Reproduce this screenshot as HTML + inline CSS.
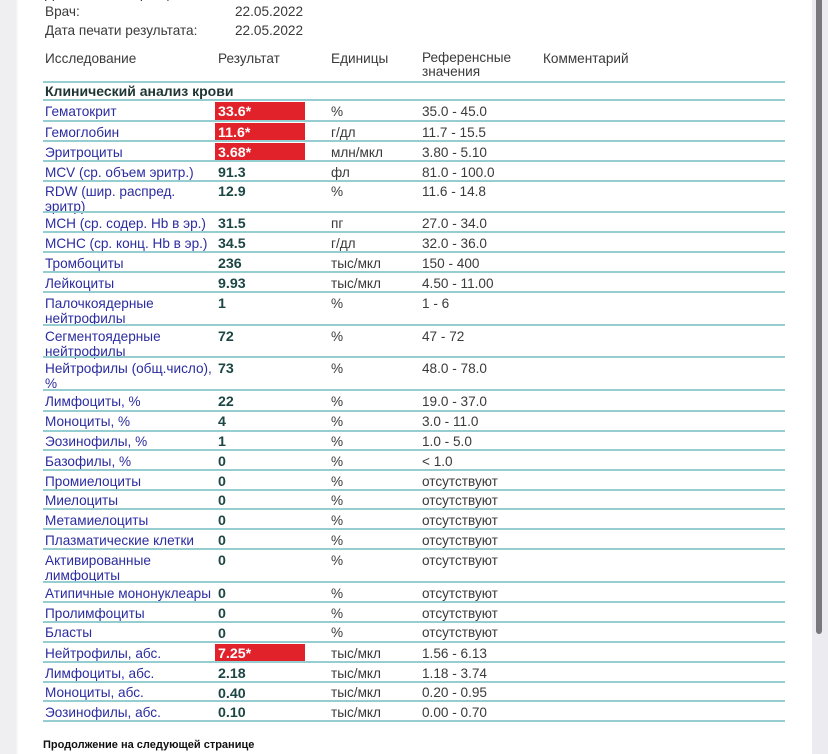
<!DOCTYPE html>
<html><head><meta charset="utf-8">
<style>
html,body{margin:0;padding:0;background:#fff;}
#p{position:relative;width:828px;height:754px;overflow:hidden;background:#fff;font-family:"Liberation Sans","Noto Sans CJK SC",sans-serif;font-size:13.6px;line-height:15px;color:#3a3a3a;}
.ab{position:absolute;white-space:nowrap;}
.ln{position:absolute;left:43px;width:742px;height:2px;background:#96cdd1;}
.n{position:absolute;left:45px;color:#2b2ca0;white-space:nowrap;}
.r{position:absolute;left:218px;color:#1c4644;font-weight:bold;font-size:14.2px;white-space:nowrap;margin-top:1.5px;}
.u{position:absolute;left:331px;white-space:nowrap;}
.f{position:absolute;left:422px;white-space:nowrap;}
.red{position:absolute;left:215px;width:90px;height:18px;background:#e2222b;}
.rw{position:absolute;left:218px;color:#fff;font-weight:bold;font-size:14.2px;white-space:nowrap;margin-top:1.5px;}
</style></head><body><div id="p">
<div class="ab" style="left:0;top:0;width:16px;height:754px;background:#efeff2;"></div>
<div class="ab" style="left:16px;top:0;width:2px;height:754px;background:#f6f6f8;"></div>
<div class="ab" style="left:812px;top:0;width:16px;height:754px;background:#ececf0;"></div>
<div class="ab" style="left:816px;top:0;width:6px;height:634px;background:#79787d;border-radius:0 0 3px 3px;"></div>

<div class="ab" style="left:45px;top:-14px;color:#3a3a3a;">Дата взятия образца:</div>
<div class="ab" style="left:235px;top:-14px;color:#3a3a3a;">22.05.2022</div>
<div class="ab" style="left:45px;top:4px;">Врач:</div>
<div class="ab" style="left:235px;top:4px;">22.05.2022</div>
<div class="ab" style="left:45px;top:23px;">Дата печати результата:</div>
<div class="ab" style="left:235px;top:23px;">22.05.2022</div>

<div class="ab" style="left:45px;top:51px;">Исследование</div>
<div class="ab" style="left:218px;top:51px;">Результат</div>
<div class="ab" style="left:331px;top:51px;">Единицы</div>
<div class="ab" style="left:422px;top:51px;line-height:14px;">Референсные<br>значения</div>
<div class="ab" style="left:543px;top:51px;">Комментарий</div>

<div class="ln" style="top:81px;"></div>
<div class="ab" style="left:45px;top:84px;font-weight:bold;color:#1e3533;font-size:14px;">Клинический анализ крови</div>
<div class="ln" style="top:99px;"></div>

<!-- rows -->
<div class="red" style="top:102px;"></div><div class="n" style="top:103.5px;">Гематокрит</div><div class="rw" style="top:103.5px;">33.6*</div><div class="u" style="top:103.5px;">%</div><div class="f" style="top:103.5px;">35.0 - 45.0</div><div class="ln" style="top:120px;"></div>
<div class="red" style="top:123px;"></div><div class="n" style="top:124.5px;">Гемоглобин</div><div class="rw" style="top:124.5px;">11.6*</div><div class="u" style="top:124.5px;">г/дл</div><div class="f" style="top:124.5px;">11.7 - 15.5</div><div class="ln" style="top:140px;"></div>
<div class="red" style="top:143px;"></div><div class="n" style="top:144.5px;">Эритроциты</div><div class="rw" style="top:144.5px;">3.68*</div><div class="u" style="top:144.5px;">млн/мкл</div><div class="f" style="top:144.5px;">3.80 - 5.10</div><div class="ln" style="top:160px;"></div>
<div class="n" style="top:164.5px;">MCV (ср. объем эритр.)</div><div class="r" style="top:164.5px;">91.3</div><div class="u" style="top:164.5px;">фл</div><div class="f" style="top:164.5px;">81.0 - 100.0</div><div class="ln" style="top:180px;"></div>
<div class="n" style="top:183.5px;">RDW (шир. распред.<br>эритр)</div><div class="r" style="top:183.5px;">12.9</div><div class="u" style="top:183.5px;">%</div><div class="f" style="top:183.5px;">11.6 - 14.8</div><div class="ln" style="top:211px;"></div>
<div class="n" style="top:215.5px;">MCH (ср. содер. Hb в эр.)</div><div class="r" style="top:215.5px;">31.5</div><div class="u" style="top:215.5px;">пг</div><div class="f" style="top:215.5px;">27.0 - 34.0</div><div class="ln" style="top:231px;"></div>
<div class="n" style="top:235.5px;">MCHC (ср. конц. Hb в эр.)</div><div class="r" style="top:235.5px;">34.5</div><div class="u" style="top:235.5px;">г/дл</div><div class="f" style="top:235.5px;">32.0 - 36.0</div><div class="ln" style="top:251px;"></div>
<div class="n" style="top:255.5px;">Тромбоциты</div><div class="r" style="top:255.5px;">236</div><div class="u" style="top:255.5px;">тыс/мкл</div><div class="f" style="top:255.5px;">150 - 400</div><div class="ln" style="top:271px;"></div>
<div class="n" style="top:275.5px;">Лейкоциты</div><div class="r" style="top:275.5px;">9.93</div><div class="u" style="top:275.5px;">тыс/мкл</div><div class="f" style="top:275.5px;">4.50 - 11.00</div><div class="ln" style="top:291px;"></div>
<div class="n" style="top:295.5px;">Палочкоядерные<br>нейтрофилы</div><div class="r" style="top:295.5px;">1</div><div class="u" style="top:295.5px;">%</div><div class="f" style="top:295.5px;">1 - 6</div><div class="ln" style="top:324px;"></div>
<div class="n" style="top:328.5px;">Сегментоядерные<br>нейтрофилы</div><div class="r" style="top:328.5px;">72</div><div class="u" style="top:328.5px;">%</div><div class="f" style="top:328.5px;">47 - 72</div><div class="ln" style="top:356px;"></div>
<div class="n" style="top:360.5px;">Нейтрофилы (общ.число),<br>%</div><div class="r" style="top:360.5px;">73</div><div class="u" style="top:360.5px;">%</div><div class="f" style="top:360.5px;">48.0 - 78.0</div><div class="ln" style="top:389px;"></div>
<div class="n" style="top:393.5px;">Лимфоциты, %</div><div class="r" style="top:393.5px;">22</div><div class="u" style="top:393.5px;">%</div><div class="f" style="top:393.5px;">19.0 - 37.0</div><div class="ln" style="top:410px;"></div>
<div class="n" style="top:413.5px;">Моноциты, %</div><div class="r" style="top:413.5px;">4</div><div class="u" style="top:413.5px;">%</div><div class="f" style="top:413.5px;">3.0 - 11.0</div><div class="ln" style="top:430px;"></div>
<div class="n" style="top:433.5px;">Эозинофилы, %</div><div class="r" style="top:433.5px;">1</div><div class="u" style="top:433.5px;">%</div><div class="f" style="top:433.5px;">1.0 - 5.0</div><div class="ln" style="top:449px;"></div>
<div class="n" style="top:453.5px;">Базофилы, %</div><div class="r" style="top:453.5px;">0</div><div class="u" style="top:453.5px;">%</div><div class="f" style="top:453.5px;">&lt; 1.0</div><div class="ln" style="top:469px;"></div>
<div class="n" style="top:473.5px;">Промиелоциты</div><div class="r" style="top:473.5px;">0</div><div class="u" style="top:473.5px;">%</div><div class="f" style="top:473.5px;">отсутствуют</div><div class="ln" style="top:489px;"></div>
<div class="n" style="top:492.5px;">Миелоциты</div><div class="r" style="top:492.5px;">0</div><div class="u" style="top:492.5px;">%</div><div class="f" style="top:492.5px;">отсутствуют</div><div class="ln" style="top:508px;"></div>
<div class="n" style="top:512.5px;">Метамиелоциты</div><div class="r" style="top:512.5px;">0</div><div class="u" style="top:512.5px;">%</div><div class="f" style="top:512.5px;">отсутствуют</div><div class="ln" style="top:528px;"></div>
<div class="n" style="top:532.5px;">Плазматические клетки</div><div class="r" style="top:532.5px;">0</div><div class="u" style="top:532.5px;">%</div><div class="f" style="top:532.5px;">отсутствуют</div><div class="ln" style="top:548px;"></div>
<div class="n" style="top:552.5px;">Активированные<br>лимфоциты</div><div class="r" style="top:552.5px;">0</div><div class="u" style="top:552.5px;">%</div><div class="f" style="top:552.5px;">отсутствуют</div><div class="ln" style="top:581px;"></div>
<div class="n" style="top:585.5px;">Атипичные мононуклеары</div><div class="r" style="top:585.5px;">0</div><div class="u" style="top:585.5px;">%</div><div class="f" style="top:585.5px;">отсутствуют</div><div class="ln" style="top:601px;"></div>
<div class="n" style="top:605.5px;">Пролимфоциты</div><div class="r" style="top:605.5px;">0</div><div class="u" style="top:605.5px;">%</div><div class="f" style="top:605.5px;">отсутствуют</div><div class="ln" style="top:621px;"></div>
<div class="n" style="top:625px;">Бласты</div><div class="r" style="top:625px;">0</div><div class="u" style="top:625px;">%</div><div class="f" style="top:625px;">отсутствуют</div><div class="ln" style="top:641px;"></div>
<div class="red" style="top:644px;"></div><div class="n" style="top:645.5px;">Нейтрофилы, абс.</div><div class="rw" style="top:645.5px;">7.25*</div><div class="u" style="top:645.5px;">тыс/мкл</div><div class="f" style="top:645.5px;">1.56 - 6.13</div><div class="ln" style="top:661px;"></div>
<div class="n" style="top:665.5px;">Лимфоциты, абс.</div><div class="r" style="top:665.5px;">2.18</div><div class="u" style="top:665.5px;">тыс/мкл</div><div class="f" style="top:665.5px;">1.18 - 3.74</div><div class="ln" style="top:681px;"></div>
<div class="n" style="top:685px;">Моноциты, абс.</div><div class="r" style="top:685px;">0.40</div><div class="u" style="top:685px;">тыс/мкл</div><div class="f" style="top:685px;">0.20 - 0.95</div><div class="ln" style="top:700px;"></div>
<div class="n" style="top:704.5px;">Эозинофилы, абс.</div><div class="r" style="top:704.5px;">0.10</div><div class="u" style="top:704.5px;">тыс/мкл</div><div class="f" style="top:704.5px;">0.00 - 0.70</div><div class="ln" style="top:720px;"></div>

<div class="ab" style="left:43px;top:738px;font-size:11px;font-weight:bold;color:#111;line-height:14px;">Продолжение на следующей странице</div>
</div></body></html>
